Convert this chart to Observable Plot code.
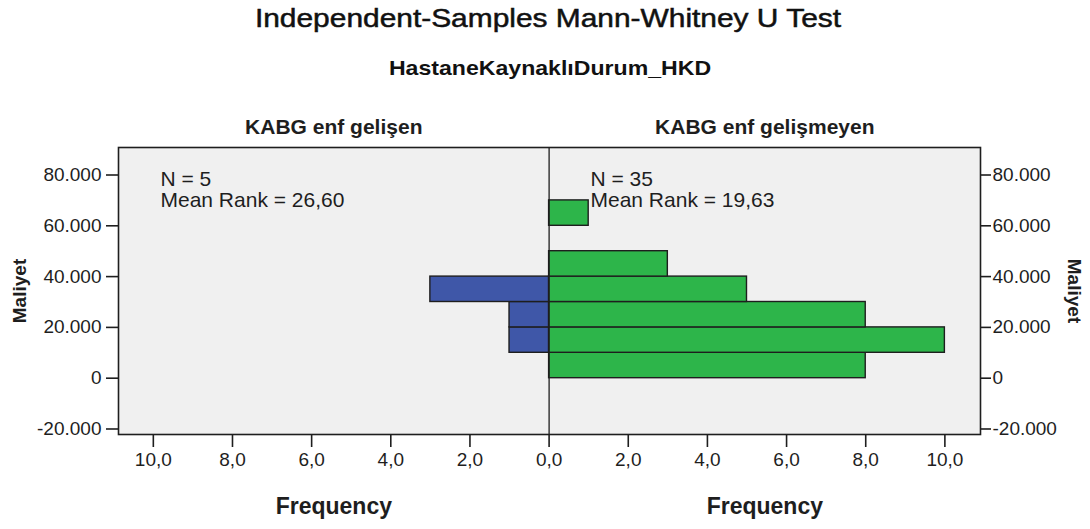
<!DOCTYPE html>
<html><head><meta charset="utf-8">
<script src="https://cdn.jsdelivr.net/npm/d3@7"></script>
<script src="https://cdn.jsdelivr.net/npm/@observablehq/plot@0.6"></script>
<style>
body{margin:0;background:#fff;font-family:"Liberation Sans",Arial,sans-serif;color:#111}
#wrap{width:1090px;height:529px;position:relative;overflow:hidden}
#hdr{position:relative;height:95px}
#title{position:absolute;top:5px;left:3px;width:1090px;text-align:center;font-size:26px;line-height:26px;transform:scaleX(1.15);transform-origin:center;-webkit-text-stroke:0.5px #111}
#sub{position:absolute;top:57px;left:5px;width:1090px;text-align:center;font-size:21px;line-height:21px;font-weight:bold;transform:scaleX(1.1);transform-origin:center}
</style></head><body>
<div id="wrap"><div id="hdr"><div id="title">Independent-Samples Mann-Whitney U Test</div><div id="sub">HastaneKaynaklıDurum_HKD</div></div><div id="chart"></div></div>
<script>
const groups = ["KABG enf gelişen", "KABG enf gelişmeyen"];
const binStarts = [0, 10000, 20000, 30000, 40000, 50000, 60000];
const binWidth = 10000;
const gelisenCounts = [0, 1, 1, 3, 0, 0, 0];
const gelismeyenCounts = [8, 10, 8, 5, 3, 0, 1];
const nValues = [5, 35];
const meanRanks = ["26,60", "19,63"];
const yTicks = [-20000, 0, 20000, 40000, 60000, 80000];
const xTicks = [-10, -8, -6, -4, -2, 0, 2, 4, 6, 8, 10];
const colors = ["#3f57a8", "#2db54a"];
const axisTitleX = "Frequency";
const axisTitleY = "Maliyet";

const xDomain = [-10.88, 10.9];
const yDomain = [-22170, 90830];

const rows = [];
binStarts.forEach((lo, i) => {
  if (gelisenCounts[i] > 0) rows.push({group: groups[0], lo, hi: lo + binWidth, v: -gelisenCounts[i]});
  if (gelismeyenCounts[i] > 0) rows.push({group: groups[1], lo, hi: lo + binWidth, v: gelismeyenCounts[i]});
});

const fmtY = d => d === 0 ? "0" : (d < 0 ? "-" : "") + d3.format(",")(Math.abs(d)).replace(/,/g, ".");
const fmtX = d => Math.abs(d).toFixed(1).replace(".", ",");

const ink = "#1e1e1e";
const chart = Plot.plot({
  width: 1090,
  height: 434,
  marginTop: 52,
  marginBottom: 95,
  marginLeft: 118,
  marginRight: 110,
  style: {fontFamily: '"Liberation Sans", Arial, sans-serif', fontSize: "19px", background: "#fff", color: ink},
  x: {domain: xDomain, axis: null},
  y: {domain: yDomain, axis: null},
  color: {domain: groups, range: colors},
  marks: [
    Plot.frame({fill: "#f0f0f0", stroke: null}),
    Plot.rectX(rows, {y1: "lo", y2: "hi", x1: d => 0, x2: "v", fill: "group", stroke: ink, strokeWidth: 1.4}),
    Plot.ruleX([0], {stroke: ink, strokeWidth: 1.3}),
    Plot.frame({stroke: ink, strokeWidth: 1.6}),
    Plot.axisY(yTicks, {anchor: "left", tickFormat: fmtY, tickSize: 12, tickPadding: 5, fontSize: 19, strokeWidth: 1.6, stroke: ink, fill: ink, label: null}),
    Plot.axisY(yTicks, {anchor: "right", tickFormat: fmtY, tickSize: 10, tickPadding: 2, fontSize: 19, strokeWidth: 1.6, stroke: ink, fill: ink, label: null}),
    Plot.axisX(xTicks, {anchor: "bottom", tickFormat: fmtX, tickSize: 13, tickPadding: 5, fontSize: 19, strokeWidth: 1.6, stroke: ink, fill: ink, label: null}),
    Plot.text([groups[0], groups[1]], {x: [xDomain[0] / 2, xDomain[1] / 2], frameAnchor: "top", dy: -14, lineAnchor: "bottom", textAnchor: "middle", fontSize: 21, fontWeight: "bold", fill: ink}),
    Plot.text([axisTitleX, axisTitleX], {x: [xDomain[0] / 2, xDomain[1] / 2], frameAnchor: "bottom", dy: 79, lineAnchor: "bottom", textAnchor: "middle", fontSize: 23, fontWeight: "bold", fill: ink}),
    Plot.text([axisTitleY], {frameAnchor: "left", dx: -99, rotate: -90, textAnchor: "middle", lineAnchor: "middle", fontSize: 19, fontWeight: "bold", fill: ink}),
    Plot.text([axisTitleY], {frameAnchor: "right", dx: 94, rotate: 90, textAnchor: "middle", lineAnchor: "middle", fontSize: 19, fontWeight: "bold", fill: ink}),
    Plot.text([`N = ${nValues[0]}\nMean Rank = ${meanRanks[0]}`], {frameAnchor: "top-left", dx: 42, dy: 23, textAnchor: "start", lineAnchor: "top", fontSize: 21, lineHeight: 1.03, fill: ink}),
    Plot.text([`N = ${nValues[1]}\nMean Rank = ${meanRanks[1]}`], {frameAnchor: "top", dx: 41, dy: 23, textAnchor: "start", lineAnchor: "top", fontSize: 21, lineHeight: 1.03, fill: ink})
  ]
});
document.getElementById("chart").appendChild(chart);
</script>
</body></html>
